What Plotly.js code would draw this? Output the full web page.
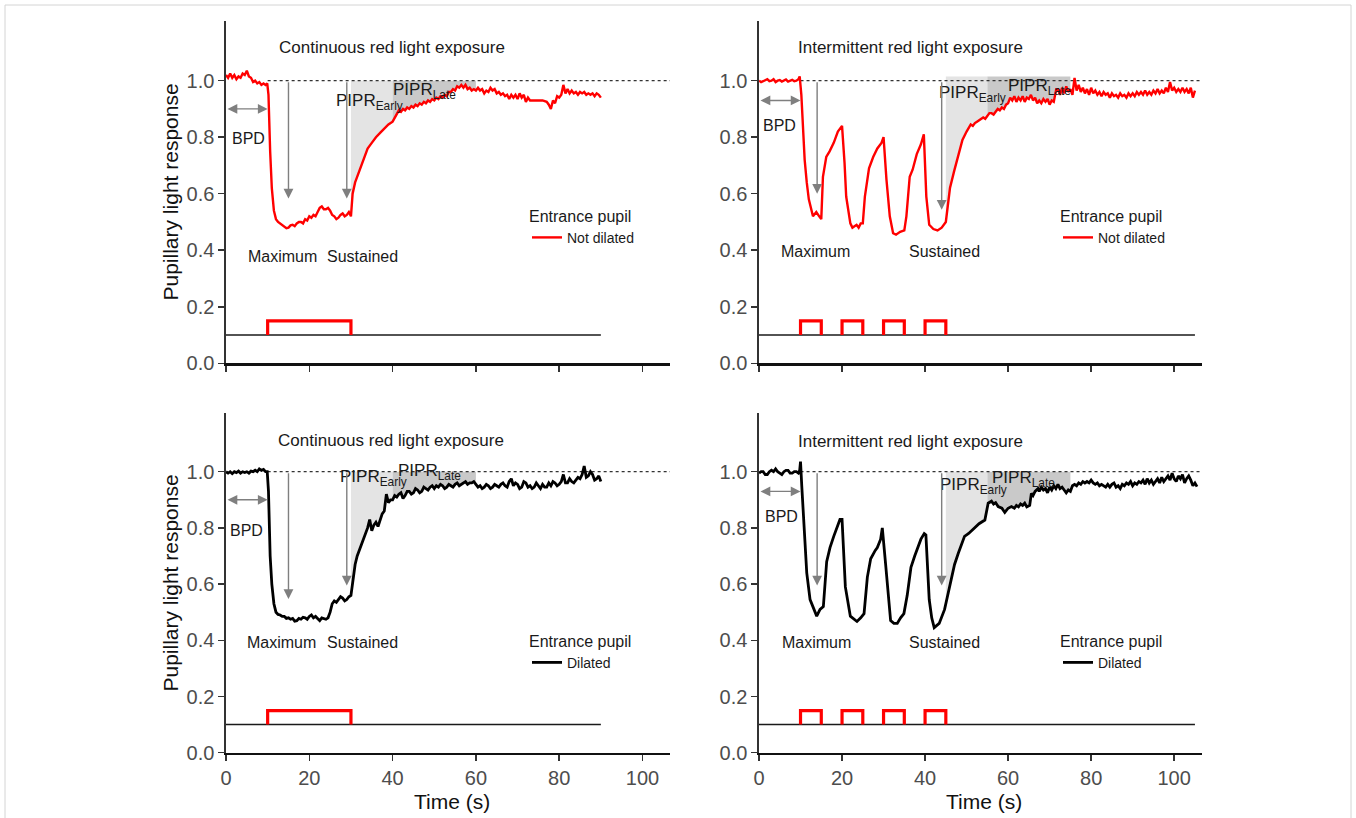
<!DOCTYPE html>
<html><head><meta charset="utf-8">
<script src="https://cdn.plot.ly/plotly-3.0.1.min.js"></script>
<style>html,body{margin:0;padding:0;background:#fff}#chart{width:1356px;height:818px}</style>
</head><body><div id="chart"></div>
<script>
// ---------------- DATA: [time (s), relative pupil size] ----------------
// Continuous exposure, not dilated (top-left)
const contNotDilated = [[0,1.02],[0.5,1.01],[1,1.025],[1.5,1.01],[2,1.02],[2.5,1.005],[3,1.015],[3.5,1.01],[4,1.025],[4.5,1.02],[5,1.035],[5.5,1.015],[6,1.01],[6.5,0.995],[7,1.0],[7.5,0.99],[8,0.995],[8.5,0.985],[9,0.99],[9.5,0.985],[9.9,0.99],
  [10.2,0.95],[10.6,0.75],[11,0.62],[11.5,0.54],[12,0.51],[12.5,0.5],[13,0.495],[13.5,0.49],[14,0.485],[14.5,0.478],[15,0.48],[15.5,0.488],[16,0.49],[16.5,0.485],[17,0.495],[17.5,0.5],[18,0.5],[18.5,0.495],[19,0.51],[19.5,0.505],[20,0.52],[20.5,0.515],[21,0.525],[21.5,0.52],[22,0.535],[22.5,0.55],[23,0.555],[23.5,0.545],[24,0.545],[24.5,0.55],[25,0.54],[25.5,0.525],[26,0.52],[26.5,0.51],[27,0.515],[27.5,0.525],[28,0.53],[28.5,0.52],[29,0.525],[29.5,0.535],[30,0.52],
  [30.4,0.60],[31,0.64],[32,0.68],[33,0.72],[34,0.76],[35,0.78],[36,0.80],[37,0.815],[38,0.83],[39,0.845],[40,0.855],
  [41,0.885],[41.5,0.895],[42,0.89],[42.5,0.9],[43,0.895],[43.5,0.905],[44,0.9],[44.5,0.91],[45,0.905],[45.5,0.915],[46,0.91],[46.5,0.92],[47,0.915],[47.5,0.925],[48,0.92],[48.5,0.93],[49,0.925],[49.5,0.935],[50,0.93],[50.5,0.94],[51,0.935],[51.5,0.945],[52,0.94],[52.5,0.95],[53,0.945],[53.5,0.96],[54,0.96],[54.5,0.97],[55,0.965],[55.5,0.98],[56,0.975],[56.5,0.985],[57,0.975],[57.5,0.985],[58,0.97],[58.5,0.975],[59,0.965],[59.5,0.97],
  [60,0.965],[60.5,0.975],[61,0.965],[61.5,0.97],[62,0.955],[62.5,0.965],[63,0.96],[63.5,0.975],[64,0.965],[64.5,0.97],[65,0.955],[65.5,0.96],[66,0.95],[66.5,0.955],[67,0.945],[67.5,0.95],[68,0.935],[68.5,0.95],[69,0.94],[69.5,0.95],[70,0.935],[70.5,0.955],[71,0.94],[71.5,0.95],[72,0.925],[72.5,0.94],[73,0.93],[73.5,0.93],[74,0.93],[75,0.93],[76,0.93],[77,0.925],[77.5,0.915],[78,0.9],[78.5,0.93],[79,0.92],[79.5,0.945],[80,0.94],[80.5,0.95],[81,0.985],[81.5,0.955],[82,0.97],[82.5,0.955],[83,0.965],[83.5,0.955],[84,0.96],[84.5,0.95],[85,0.96],[85.5,0.955],[86,0.96],[86.5,0.95],[87,0.955],[87.5,0.95],[88,0.955],[88.5,0.945],[89,0.955],[89.5,0.95],[90,0.94]];

// Intermittent exposure, not dilated (top-right)
const intNotDilated = [[0,1.0],[0.5,0.995],[1,0.998],[1.5,1.003],[2,1.005],[2.5,0.998],[3,1.0],[3.5,1.005],[4,0.995],[4.5,1.0],[5,1.002],[5.5,0.997],[6,1.0],[6.5,1.004],[7,0.997],[7.5,1.0],[8,1.003],[8.5,0.998],[9,1.0],[9.5,1.005],[9.8,1.015],
  [10.2,0.95],[10.6,0.82],[11,0.72],[11.5,0.64],[12,0.58],[13,0.52],[13.8,0.535],[14.5,0.52],[15,0.51],[15.4,0.66],[16.2,0.73],[17,0.75],[18,0.78],[19,0.82],[20,0.84],
  [20.6,0.71],[21,0.59],[22,0.495],[22.5,0.48],[23,0.485],[23.5,0.49],[24,0.48],[24.5,0.495],[25,0.495],[25.5,0.59],[26.5,0.69],[27.5,0.73],[28.5,0.76],[29.5,0.78],[30,0.80],
  [30.7,0.65],[31.5,0.52],[32.3,0.46],[33,0.455],[34,0.465],[35,0.47],[35.5,0.52],[36.3,0.66],[37,0.685],[38,0.74],[39,0.775],[39.7,0.81],
  [40.3,0.59],[41,0.49],[42,0.475],[43,0.47],[44,0.48],[45,0.50],[45.5,0.57],[46,0.62],[47,0.68],[48,0.74],[49,0.79],[50,0.82],[50.5,0.835],[51,0.845],[51.5,0.84],[52,0.85],[52.5,0.855],[53,0.86],[53.5,0.865],[54,0.87],[54.5,0.865],[55,0.875],[55.5,0.885],[56,0.885],[56.5,0.88],[57,0.89],[57.5,0.9],[58,0.895],[58.5,0.905],[59,0.90],[59.5,0.915],
  [60,0.92],[60.5,0.94],[61,0.93],[61.5,0.945],[62,0.925],[62.5,0.94],[63,0.93],[63.5,0.945],[64,0.925],[64.5,0.94],[65,0.935],[65.5,0.95],[66,0.93],[66.5,0.94],[67,0.92],[67.5,0.93],[68,0.92],[68.5,0.935],[69,0.925],[69.5,0.935],[70,0.915],[70.5,0.93],[71,0.925],[71.6,0.97],
  [72,0.97],[72.5,0.95],[73,0.975],[73.5,0.955],[74,0.98],[74.5,0.96],[75,0.97],[75.5,0.95],[76,1.01],[76.5,0.965],[77,0.985],[77.5,0.96],[78,0.975],[78.5,0.955],[79,0.97],[79.5,0.95],[80,0.975],[80.5,0.955],[81,0.965],[81.5,0.95],[82,0.96],[82.5,0.945],[83,0.96],[83.5,0.95],[84,0.955],[84.5,0.94],[85,0.955],[85.5,0.945],[86,0.95],[86.5,0.94],[87,0.955],[87.5,0.945],[88,0.95],[88.5,0.94],[89,0.955],[89.5,0.945],[90,0.955],[90.5,0.945],[91,0.96],[91.5,0.95],[92,0.96],[92.5,0.95],[93,0.965],[93.5,0.95],[94,0.96],[94.5,0.95],[95,0.965],[95.5,0.955],[96,0.97],[96.5,0.955],[97,0.965],[97.5,0.955],[98,0.975],[98.5,0.96],[99,0.995],[99.5,0.965],[100,0.975],[100.5,0.96],[101,0.97],[101.5,0.96],[102,0.975],[102.5,0.96],[103,0.97],[103.5,0.955],[104,0.975],[104.5,0.94],[105,0.965]];

// Continuous exposure, dilated (bottom-left)
const contDilated = [[0,1.0],[0.5,0.995],[1,1.0],[1.5,0.993],[2,1.0],[2.5,0.997],[3,1.002],[3.5,0.995],[4,1.0],[4.5,0.997],[5,1.0],[5.5,0.995],[6,1.002],[6.5,1.0],[7,1.005],[7.5,1.0],[8,1.01],[8.5,1.005],[9,1.008],[9.5,1.0],[9.9,1.0],
  [10.2,0.93],[10.6,0.70],[11,0.60],[11.5,0.53],[12,0.50],[12.5,0.492],[13,0.49],[13.5,0.485],[14,0.485],[14.5,0.478],[15,0.48],[15.5,0.475],[16,0.478],[16.5,0.468],[17,0.47],[17.5,0.478],[18,0.475],[18.5,0.482],[19,0.48],[19.5,0.475],[20,0.485],[20.5,0.49],[21,0.48],[21.5,0.485],[22,0.478],[22.5,0.47],[23,0.48],[23.5,0.478],[24,0.475],[24.5,0.48],[25,0.50],[25.5,0.53],[26,0.54],[26.5,0.535],[27,0.545],[27.5,0.555],[28,0.55],[28.5,0.54],[29,0.545],[29.5,0.555],[30,0.56],
  [30.5,0.62],[31,0.67],[31.5,0.70],[32,0.72],[32.5,0.745],[33,0.76],[33.5,0.78],[34,0.80],[34.5,0.83],[35,0.79],[35.5,0.81],[36,0.82],[36.5,0.805],[37,0.83],[37.5,0.85],[38,0.86],[38.5,0.92],[39,0.89],[39.5,0.9],[40,0.90],
  [40.5,0.915],[41,0.91],[41.5,0.92],[42,0.925],[42.5,0.905],[43,0.915],[43.5,0.93],[44,0.93],[44.5,0.92],[45,0.925],[45.5,0.94],[46,0.935],[46.5,0.925],[47,0.93],[47.5,0.945],[48,0.94],[48.5,0.935],[49,0.945],[49.5,0.95],[50,0.94],[50.5,0.95],[51,0.945],[51.5,0.955],[52,0.95],[52.5,0.94],[53,0.945],[53.5,0.955],[54,0.95],[54.5,0.945],[55,0.955],[55.5,0.96],[56,0.95],[56.5,0.955],[57,0.96],[57.5,0.965],[58,0.955],[58.5,0.96],[59,0.96],[59.5,0.965],[60,0.955],
  [60.5,0.945],[61,0.95],[61.5,0.94],[62,0.945],[62.5,0.955],[63,0.95],[63.5,0.94],[64,0.945],[64.5,0.955],[65,0.95],[65.5,0.945],[66,0.955],[66.5,0.96],[67,0.95],[67.5,0.945],[68,0.965],[68.5,0.975],[69,0.95],[69.5,0.96],[70,0.955],[70.5,0.94],[71,0.945],[71.5,0.965],[72,0.96],[72.5,0.945],[73,0.95],[73.5,0.94],[74,0.945],[74.5,0.96],[75,0.95],[75.5,0.94],[76,0.955],[76.5,0.945],[77,0.945],[77.5,0.96],[78,0.95],[78.5,0.965],[79,0.96],[79.5,0.95],[80,0.955],[80.5,0.965],[81,0.99],[81.5,0.96],[82,0.96],[82.5,0.975],[83,0.965],[83.5,0.96],[84,0.97],[84.5,0.98],[85,0.975],[85.5,0.99],[86,1.02],[86.5,0.98],[87,0.985],[87.5,1.0],[88,0.99],[88.5,0.97],[89,0.975],[89.5,0.985],[90,0.965]];

// Intermittent exposure, dilated (bottom-right)
const intDilated = [[0,0.995],[0.5,1.0],[1,1.0],[1.5,0.99],[2,0.99],[2.5,1.0],[3,1.005],[3.5,1.0],[4,1.01],[4.5,1.0],[5,0.995],[5.5,0.99],[6,1.0],[6.5,1.005],[7,1.005],[7.5,0.995],[8,0.995],[8.5,1.0],[9,1.0],[9.5,0.995],[9.8,1.005],[10,1.036],
  [10.3,0.95],[10.7,0.83],[11.5,0.64],[12.3,0.545],[13,0.52],[13.9,0.486],[14.7,0.51],[15.5,0.52],[16.3,0.68],[17.1,0.73],[18,0.77],[18.8,0.80],[19.5,0.83],[20,0.83],
  [20.8,0.59],[22,0.486],[23,0.475],[23.6,0.467],[24.5,0.48],[25.3,0.495],[26.1,0.625],[26.9,0.69],[28,0.72],[28.5,0.73],[29.3,0.76],[29.7,0.80],
  [30.5,0.67],[31.7,0.47],[32.5,0.46],[33.3,0.46],[34.1,0.48],[34.9,0.495],[35.7,0.56],[36.6,0.66],[37.5,0.70],[38.2,0.73],[39,0.76],[39.8,0.78],[40.2,0.775],
  [41,0.545],[41.6,0.48],[42.2,0.445],[43.4,0.46],[44.7,0.51],[45.5,0.56],[46.3,0.62],[47.1,0.67],[48,0.71],[49.5,0.77],[50.5,0.78],[51.9,0.80],[53,0.815],
  [54.4,0.828],[55.2,0.888],[56,0.895],[56.5,0.885],[57,0.89],[57.6,0.876],[58.5,0.87],[59.2,0.855],[60,0.87],[60.8,0.876],[61.5,0.87],[62,0.88],[62.5,0.875],[63,0.885],[63.5,0.88],[64,0.888],[64.5,0.875],[65.2,0.88],
  [65.6,0.923],[66,0.915],[66.5,0.93],[67,0.935],[67.2,0.94],[67.5,0.93],[68,0.945],[68.5,0.935],[69,0.94],[69.5,0.925],[70,0.945],[70.5,0.935],[71,0.95],[71.5,0.94],[72,0.955],[72.5,0.94],[73,0.945],[73.5,0.935],[74,0.925],[74.5,0.935],[75,0.93],[75.5,0.95],[76,0.955],[76.5,0.95],[77,0.96],[77.5,0.955],[78,0.965],[78.5,0.96],[79,0.965],[79.5,0.96],[80,0.97],[80.5,0.96],[81,0.955],[81.5,0.96],[82,0.95],[82.5,0.955],[83,0.95],[83.5,0.945],[84,0.955],[84.5,0.945],[85,0.955],[85.5,0.96],[86,0.945],[86.5,0.95],[87,0.94],[87.5,0.955],[88,0.95],[88.5,0.96],[89,0.955],[89.5,0.965],[90,0.95],[90.5,0.96],[91,0.955],[91.5,0.965],[92,0.96],[92.5,0.97],[93,0.955],[93.5,0.975],[94,0.96],[94.5,0.97],[95,0.955],[95.5,0.965],[96,0.975],[96.5,0.96],[97,0.98],[97.5,0.965],[98,0.975],[98.5,0.985],[99,0.97],[99.5,0.995],[100,0.975],[100.5,0.965],[101,0.985],[101.5,0.975],[102,0.99],[102.5,0.96],[103,0.975],[103.5,0.985],[104,0.97],[104.5,0.95],[105,0.96],[105.5,0.947]];

// Light stimulus (seconds)
const contOn = [10], contOff = [30];
const intOn = [10,20,30,40], intOff = [15,25,35,45];
const stimBase = 0.1, stimHigh = 0.15;
const contEnd = 90, intEnd = 105;

// PIPR windows (seconds)
const contEarly = [30,40], contLate = [40,60];
const intEarly = [45,55], intLate = [55,75];

// Labels
const titles = ['Continuous red light exposure','Intermittent red light exposure','Continuous red light exposure','Intermittent red light exposure'];
const groupNames = ['Not dilated','Not dilated','Dilated','Dilated'];
const xTicks = [0,20,40,60,80,100];
const yTicks = [0,0.2,0.4,0.6,0.8,1.0];
const yTickText = ['0.0','0.2','0.4','0.6','0.8','1.0'];

// ---------------- BUILD ----------------
const FONT = 'Liberation Sans, Arial, Helvetica, sans-serif';
const W = 1356, H = 818;
const px = v => v / W, py = v => 1 - v / H;

function interpAt(t, y, x) {
  for (let i = 0; i < t.length - 1; i++) {
    if (x >= t[i] && x <= t[i+1]) {
      const f = (x - t[i]) / (t[i+1] - t[i]);
      return y[i] + f * (y[i+1] - y[i]);
    }
  }
  return y[y.length - 1];
}
function shadePoly(t, y, win, top) {
  const xs = [win[0]], ys = [interpAt(t, y, win[0])];
  for (let i = 0; i < t.length; i++) if (t[i] > win[0] && t[i] < win[1]) { xs.push(t[i]); ys.push(Math.min(y[i], top)); }
  xs.push(win[1], win[1], win[0], win[0]);
  ys.push(interpAt(t, y, win[1]), top, top, interpAt(t, y, win[0]));
  return {xs, ys};
}
function stimPath(on, off) {
  const xs = [], ys = [];
  on.forEach((a, i) => { xs.push(a, a, off[i], off[i], null); ys.push(stimBase, stimHigh, stimHigh, stimBase, null); });
  return {xs, ys};
}

const XMAX = [106.6, 106.7, 106.6, 106.7];
const series = [contNotDilated, intNotDilated, contDilated, intDilated];
const panels = [
  {col:'#ff0000', w:2.4, on:contOn, off:contOff, end:contEnd, early:contEarly, late:contLate, top:1.0, leg:'legend'},
  {col:'#ff0000', w:2.4, on:intOn,  off:intOff,  end:intEnd,  early:intEarly,  late:intLate,  top:1.015, leg:'legend2'},
  {col:'#000000', w:2.8, on:contOn, off:contOff, end:contEnd, early:contEarly, late:contLate, top:1.0, leg:'legend3'},
  {col:'#000000', w:2.8, on:intOn,  off:intOff,  end:intEnd,  early:intEarly,  late:intLate,  top:1.0, leg:'legend4'}
];

const traces = [];
panels.forEach((p, k) => {
  const t = series[k].map(d => d[0]), v = series[k].map(d => d[1]);
  const xa = k === 0 ? 'x' : 'x' + (k + 1), ya = k === 0 ? 'y' : 'y' + (k + 1);
  const e = shadePoly(t, v, p.early, p.top);
  traces.push({x:e.xs, y:e.ys, xaxis:xa, yaxis:ya, mode:'lines', fill:'toself', fillcolor:'#e4e4e4', line:{width:0, color:'rgba(0,0,0,0)'}, showlegend:false, hoverinfo:'skip'});
  const l = shadePoly(t, v, p.late, p.top);
  traces.push({x:l.xs, y:l.ys, xaxis:xa, yaxis:ya, mode:'lines', fill:'toself', fillcolor:'#c9c9c9', line:{width:0, color:'rgba(0,0,0,0)'}, showlegend:false, hoverinfo:'skip'});
  traces.push({x:[p.on[0], XMAX[k]], y:[1, 1], xaxis:xa, yaxis:ya, mode:'lines', line:{color:'#333', width:1.2, dash:'dot'}, showlegend:false, hoverinfo:'skip'});
  traces.push({x:[0, p.end], y:[stimBase, stimBase], xaxis:xa, yaxis:ya, mode:'lines', line:{color:'#1a1a1a', width:1.5}, showlegend:false, hoverinfo:'skip'});
  const s = stimPath(p.on, p.off);
  traces.push({x:s.xs, y:s.ys, xaxis:xa, yaxis:ya, mode:'lines', line:{color:'#ff0000', width:3.2}, connectgaps:false, showlegend:false, hoverinfo:'skip'});
  traces.push({x:t, y:v, xaxis:xa, yaxis:ya, mode:'lines', name:groupNames[k], line:{color:p.col, width:p.w}, legend:p.leg, showlegend:true});
});

const xDom = [[226/W, 670/W], [759/W, 1202/W], [226/W, 670/W], [759/W, 1202/W]];
const yDom = [[1-363.3/H, 1-21.3/H], [1-363.3/H, 1-21.3/H], [1-752.7/H, 1-412.7/H], [1-752.7/H, 1-412.7/H]];

const layout = {
  width: W, height: H,
  margin: {l:0, r:0, t:0, b:0},
  paper_bgcolor: '#fff', plot_bgcolor: 'rgba(0,0,0,0)',
  font: {family: FONT, color: '#1a1a1a'},
  annotations: [], shapes: []
};
for (let k = 0; k < 4; k++) {
  const sx = k === 0 ? '' : String(k + 1);
  layout['xaxis' + sx] = {
    domain: xDom[k], anchor: 'y' + sx, range: [0, XMAX[k]], showgrid: false, zeroline: false,
    showline: true, linecolor: '#111', linewidth: 2.2, ticks: 'outside', ticklen: 6, tickwidth: 1.5, tickcolor: '#333',
    tickvals: xTicks, showticklabels: k >= 2, tickfont: {family: FONT, size: 20, color: '#4d4d4d'}, fixedrange: true
  };
  layout['yaxis' + sx] = {
    domain: yDom[k], anchor: 'x' + sx, range: [0, 1.21], showgrid: false, zeroline: false,
    showline: true, linecolor: '#333', linewidth: 1.6, ticks: 'outside', ticklen: 6, tickwidth: 1.5, tickcolor: '#333',
    tickvals: yTicks, ticktext: yTickText, tickfont: {family: FONT, size: 20, color: '#4d4d4d'}, fixedrange: true
  };
}

const txt = [
  {title:[12.2,1.116], bpd:[1,0.794,0.9], max:[13.5,0.378], sus:[32.7,0.378], arMax:[15,0.583], arSus:[29,0.583], pe:[25.9,0.926], pl:[39.5,0.965]},
  {title:[8.8,1.116],  bpd:[0.6,0.843,0.93], max:[13.7,0.394], sus:[44.6,0.394], arMax:[14,0.60], arSus:[44,0.543], pe:[42.9,0.954], pl:[59.4,0.977]},
  {title:[12.1,1.110], bpd:[0.4,0.79,0.9], max:[13.4,0.393], sus:[32.7,0.393], arMax:[15,0.547], arSus:[29,0.595], pe:[26.9,0.978], pl:[40.8,1.0]},
  {title:[8.9,1.107],  bpd:[1,0.84,0.93], max:[13.9,0.393], sus:[44.7,0.393], arMax:[14,0.595], arSus:[44,0.595], pe:[43.0,0.95], pl:[55.6,0.974]}
];
txt.forEach((q, k) => {
  const xr = k === 0 ? 'x' : 'x' + (k + 1), yr = k === 0 ? 'y' : 'y' + (k + 1);
  const A = layout.annotations;
  const base = {xref: xr, yref: yr, showarrow: false, font: {family: FONT, size: 16, color: '#1a1a1a'}};
  A.push(Object.assign({}, base, {x: q.title[0], y: q.title[1], text: titles[k], xanchor: 'left', yanchor: 'middle', font: {family: FONT, size: 17, color: '#1a1a1a'}}));
  A.push(Object.assign({}, base, {x: q.bpd[0], y: q.bpd[1], text: 'BPD', xanchor: 'left', yanchor: 'middle'}));
  A.push(Object.assign({}, base, {x: q.max[0], y: q.max[1], text: 'Maximum', xanchor: 'center', yanchor: 'middle'}));
  A.push(Object.assign({}, base, {x: q.sus[0], y: q.sus[1], text: 'Sustained', xanchor: 'center', yanchor: 'middle'}));
  A.push(Object.assign({}, base, {x: q.pe[0], y: q.pe[1], text: 'PIPR<sub>Early</sub>', xanchor: 'left', yanchor: 'middle', font: {family: FONT, size: 17, color: '#1a1a1a'}}));
  A.push(Object.assign({}, base, {x: q.pl[0], y: q.pl[1], text: 'PIPR<sub>Late</sub>', xanchor: 'left', yanchor: 'middle', font: {family: FONT, size: 17, color: '#1a1a1a'}}));
  const arr = {xref: xr, yref: yr, axref: xr, ayref: yr, text: '', showarrow: true, arrowhead: 2, arrowsize: 1.4, arrowwidth: 1.4, arrowcolor: '#7f7f7f', standoff: 0, startstandoff: 0};
  A.push(Object.assign({}, arr, {x: q.arMax[0], y: q.arMax[1], ax: q.arMax[0], ay: 1.0}));
  A.push(Object.assign({}, arr, {x: q.arSus[0], y: q.arSus[1], ax: q.arSus[0], ay: 1.0}));
  A.push(Object.assign({}, arr, {x: 10, y: q.bpd[2], ax: 0, ay: q.bpd[2], arrowside: 'end+start'}));
});
[[192.5, 170], [583.5, 170]].forEach(([cy, cx]) => {
  layout.annotations.push({xref: 'paper', yref: 'paper', x: px(cx), y: py(cy), text: 'Pupillary light response', textangle: -90, showarrow: false, xanchor: 'center', yanchor: 'middle', font: {family: FONT, size: 21, color: '#111'}});
});
[451.5, 984.5].forEach(cx => {
  layout.annotations.push({xref: 'paper', yref: 'paper', x: px(cx), y: py(801), text: 'Time (s)', showarrow: false, xanchor: 'center', yanchor: 'middle', font: {family: FONT, size: 21, color: '#111'}});
});
const legPos = [[527, 201], [1058, 201], [527, 626], [1058, 626]];
['legend', 'legend2', 'legend3', 'legend4'].forEach((name, k) => {
  layout[name] = {
    x: px(legPos[k][0]), y: py(legPos[k][1]), xanchor: 'left', yanchor: 'top', xref: 'paper', yref: 'paper',
    bgcolor: 'rgba(0,0,0,0)', borderwidth: 0, itemwidth: 30,
    title: {text: 'Entrance pupil', side: 'top', font: {family: FONT, size: 16, color: '#1a1a1a'}},
    font: {family: FONT, size: 14, color: '#1a1a1a'}
  };
});
layout.shapes.push({type: 'rect', xref: 'paper', yref: 'paper', x0: px(5), x1: px(1351), y0: py(822), y1: py(5), line: {color: '#d4d4d4', width: 1}, fillcolor: 'rgba(0,0,0,0)'});

Plotly.newPlot('chart', traces, layout, {displayModeBar: false, staticPlot: true});
</script></body></html>
